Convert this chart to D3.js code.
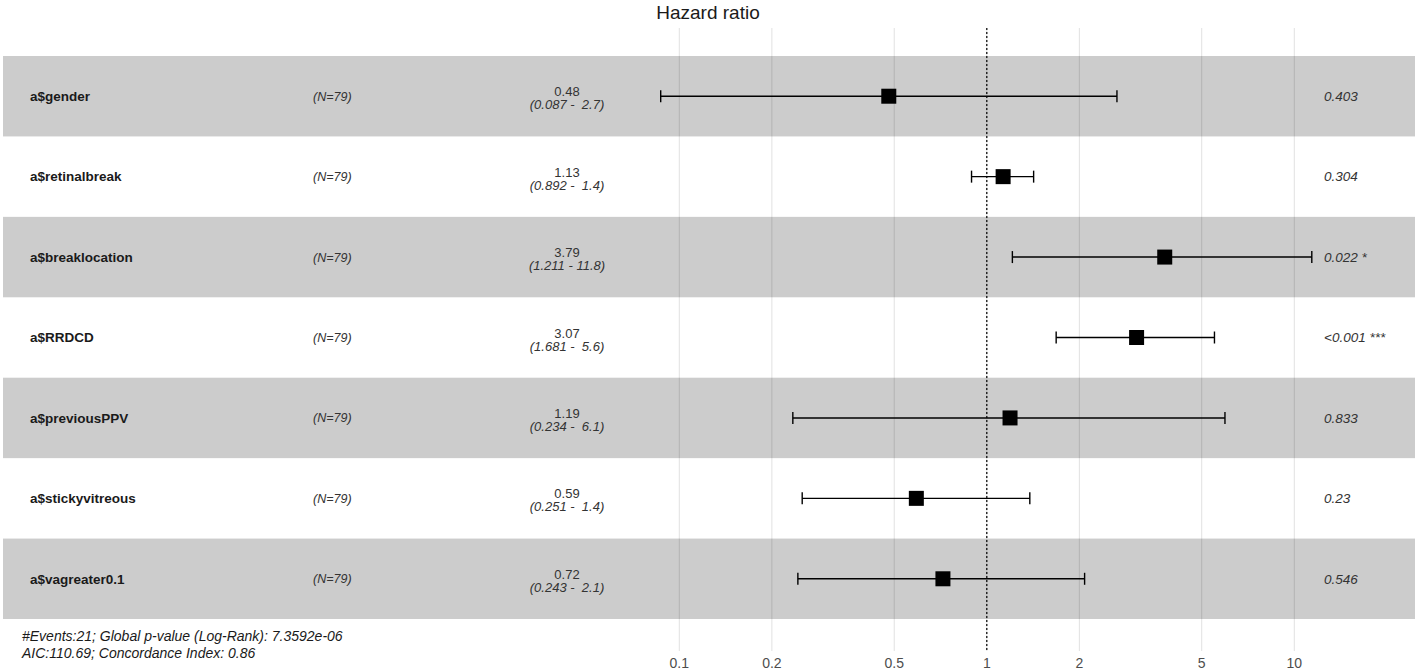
<!DOCTYPE html>
<html>
<head>
<meta charset="utf-8">
<script src="https://cdn.jsdelivr.net/npm/d3@7"></script>
<style>
  body { margin: 0; background: #fff; }
  text { font-family: "Liberation Sans", Arial, sans-serif; }
</style>
</head>
<body>
<div id="chart"></div>
<script>
const width = 1418
const height = 672

// data
const variables = ["a$gender", "a$retinalbreak", "a$breaklocation", "a$RRDCD", "a$previousPPV", "a$stickyvitreous", "a$vagreater0.1"]
const nLabels = ["(N=79)", "(N=79)", "(N=79)", "(N=79)", "(N=79)", "(N=79)", "(N=79)"]
const hazard = [0.48, 1.13, 3.79, 3.07, 1.19, 0.59, 0.72]
const lower = [0.087, 0.892, 1.211, 1.681, 0.234, 0.251, 0.243]
const upper = [2.65, 1.42, 11.4, 5.5, 5.95, 1.38, 2.08]
const estLabels = ["0.48", "1.13", "3.79", "3.07", "1.19", "0.59", "0.72"]
const ciLabels = ["(0.087 -  2.7)", "(0.892 -  1.4)", "(1.211 - 11.8)", "(1.681 -  5.6)", "(0.234 -  6.1)", "(0.251 -  1.4)", "(0.243 -  2.1)"]
const pLabels = ["0.403", "0.304", "0.022 *", "<0.001 ***", "0.833", "0.23", "0.546"]
const tickValues = [0.1, 0.2, 0.5, 1, 2, 5, 10]
const footer = ["#Events:21; Global p-value (Log-Rank): 7.3592e-06", "AIC:110.69; Concordance Index: 0.86"]

const data = variables.map((v, i) => ({
    name: v, n: nLabels[i], hr: hazard[i], lo: lower[i], hi: upper[i],
    est: estLabels[i], ci: ciLabels[i], p: pLabels[i], idx: i
}))

const svg = d3.select("div#chart").append("svg").attr("width", width).attr("height", height)

const x = d3.scaleLog().domain([0.1, 10]).range([679.3, 1294.3])
const y = d3.scaleBand().domain(variables).range([56, 619])

// row bands
svg.append("g").selectAll("rect").data(data.filter(d => d.idx % 2 === 0)).enter().append("rect")
    .attr("x", 3).attr("width", 1412)
    .attr("y", d => y(d.name)).attr("height", y.bandwidth())
    .attr("fill", "#cccccc")

// grid lines + tick labels
const grid = svg.append("g")
grid.selectAll("line").data(tickValues).enter().append("line")
    .attr("x1", d => x(d)).attr("x2", d => x(d))
    .attr("y1", 28).attr("y2", 651)
    .attr("stroke", "#000").attr("stroke-opacity", 0.12).attr("stroke-width", 1)
grid.selectAll("text").data(tickValues).enter().append("text")
    .attr("x", d => x(d)).attr("y", 668)
    .attr("text-anchor", "middle").attr("font-size", 14).attr("fill", "#4d4d4d")
    .text(d => d3.format("~g")(d))

// reference line at HR = 1
svg.append("line")
    .attr("x1", x(1)).attr("x2", x(1)).attr("y1", 28).attr("y2", 651)
    .attr("stroke", "#000").attr("stroke-width", 1.2).style("stroke-dasharray", "2, 2")

svg.append("text").text("Hazard ratio")
    .attr("x", 708).attr("y", 19).attr("text-anchor", "middle")
    .attr("font-size", 19).attr("fill", "#1a1a1a")

const rows = svg.append("g").selectAll("g").data(data).enter().append("g")
    .attr("transform", d => `translate(0, ${y(d.name) + y.bandwidth() / 2})`)

rows.append("text").text(d => d.name)
    .attr("x", 30).attr("y", 4.8).attr("font-size", 13.5).attr("font-weight", 700).attr("fill", "#1a1a1a")
rows.append("text").text(d => d.n)
    .attr("x", 313).attr("y", 4.5).attr("font-size", 12.5).attr("font-style", "italic").attr("fill", "#333")
rows.append("text").text(d => d.est)
    .attr("x", 567).attr("y", 0).attr("text-anchor", "middle").attr("font-size", 13).attr("fill", "#333")
rows.append("text").text(d => d.ci)
    .attr("x", 567).attr("y", 13).attr("text-anchor", "middle").attr("font-size", 13)
    .attr("font-style", "italic").attr("fill", "#333").style("white-space", "pre")
rows.append("text").text(d => d.p)
    .attr("x", 1324).attr("y", 4.8).attr("font-size", 13.5).attr("font-style", "italic").attr("fill", "#333")

// confidence intervals
rows.append("line")
    .attr("x1", d => x(d.lo)).attr("x2", d => x(d.hi)).attr("y1", 0).attr("y2", 0)
    .attr("stroke", "#000").attr("stroke-width", 1.4)
rows.append("line")
    .attr("x1", d => x(d.lo)).attr("x2", d => x(d.lo)).attr("y1", -6).attr("y2", 6)
    .attr("stroke", "#000").attr("stroke-width", 1.4)
rows.append("line")
    .attr("x1", d => x(d.hi)).attr("x2", d => x(d.hi)).attr("y1", -6).attr("y2", 6)
    .attr("stroke", "#000").attr("stroke-width", 1.4)
rows.append("rect")
    .attr("x", d => x(d.hr) - 7.5).attr("y", -7.5).attr("width", 15).attr("height", 15)
    .attr("fill", "#000")

svg.append("g").selectAll("text").data(footer).enter().append("text")
    .attr("x", 22).attr("y", (d, i) => 641 + i * 17)
    .attr("font-size", 14).attr("font-style", "italic").attr("fill", "#1a1a1a")
    .text(d => d)
</script>
</body>
</html>
